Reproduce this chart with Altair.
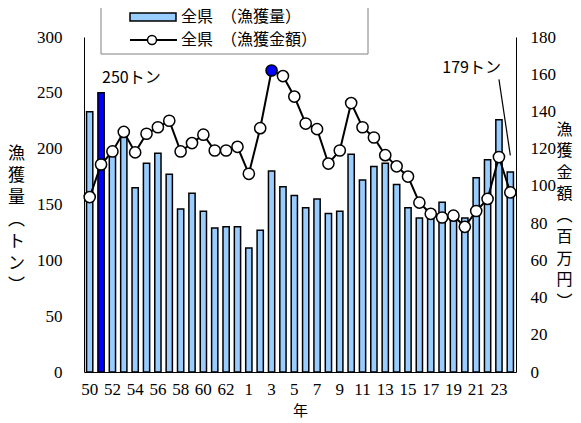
import altair as alt
import pandas as pd

years = [str(y) for y in range(50, 64)] + [str(y) for y in range(1, 25)]
catch_t = [233, 250, 197, 213, 165, 187, 196, 177, 146, 160, 144, 129, 130, 130,
           111, 127, 180, 166, 158, 147, 155, 142, 144, 195, 172, 184, 187, 168,
           147, 138, 141, 152, 140, 138, 174, 190, 226, 179]
amount_m = [94, 111.5, 118.5, 129, 118, 128, 131.5, 135, 118.5, 123, 127.5, 119, 119, 121,
            106.5, 131, 162, 159, 148, 133.5, 130.5, 112, 119, 144.5, 131.5, 126, 116.5, 110.5,
            105, 91, 85, 83, 84, 78, 86.5, 93, 115.5, 96.5]
x_labels = ["50", "52", "54", "56", "58", "60", "62", "1", "3", "5", "7", "9",
            "11", "13", "15", "17", "19", "21", "23"]
left_ticks = [0, 50, 100, 150, 200, 250, 300]
right_ticks = [0, 20, 40, 60, 80, 100, 120, 140, 160, 180]
left_title = ["漁", "獲", "量", "︵", "ト", "ン", "︶"]
right_title = ["漁", "獲", "金", "額", "︵", "百", "万", "円", "︶"]
legend_labels = ["全県　（漁獲量）", "全県　（漁獲金額）"]
ann_text1 = [{"year": "51", "y": 263, "t": "250トン"}]
ann_text2 = [{"year": "23", "y": 272, "t": "179トン"}]
ann_line = [{"year": "23", "year2": "24", "y": 262, "y2": 194}]

df = pd.DataFrame({"year": years, "catch": catch_t, "amount": amount_m})

NUM = "Liberation Sans Narrow"
JP = "Noto Sans CJK JP"
W, H = 432, 335

x_axis = alt.Axis(values=x_labels, labelAngle=0, ticks=False, domainColor="black",
                  labelFont=NUM, labelFontSize=17, labelColor="black", labelPadding=9,
                  titleFont=JP, titleFontSize=15, titleFontWeight="normal",
                  titleColor="black", titlePadding=6)
x_scale = alt.Scale(domain=years, paddingInner=0.45, paddingOuter=0.225)


def xenc():
    return alt.X("year:N", scale=x_scale, title="年", axis=x_axis)


yl_scale = alt.Scale(domain=[0, 300], nice=False)
yr_scale = alt.Scale(domain=[0, 180], nice=False)

bars = alt.Chart(df).mark_bar(stroke="black", strokeWidth=1.5).encode(
    x=xenc(),
    y=alt.Y("catch:Q", scale=yl_scale, title=left_title,
            axis=alt.Axis(orient="left", values=left_ticks, grid=False, ticks=False,
                          domainColor="black", labelFont=NUM, labelFontSize=17,
                          labelColor="black", labelPadding=22,
                          titleFont=JP, titleFontSize=17, titleFontWeight="normal",
                          titleColor="black", titleAngle=0, titleAlign="center",
                          titleBaseline="top", titleLineHeight=22,
                          titleX=-68, titleY=108)),
    fill=alt.condition(alt.datum.year == "51", alt.value("#0000FF"), alt.value("#99CCFF")),
)

ann_t1 = alt.Chart(alt.Data(values=ann_text1)).mark_text(
    font=JP, fontSize=16, baseline="middle", align="left", dx=1, color="black").encode(
    x=xenc(),
    y=alt.Y("y:Q", scale=yl_scale, axis=None),
    text="t:N",
)
ann_t2 = alt.Chart(alt.Data(values=ann_text2)).mark_text(
    font=JP, fontSize=16, baseline="middle", align="right", dx=2, color="black").encode(
    x=xenc(),
    y=alt.Y("y:Q", scale=yl_scale, axis=None),
    text="t:N",
)
ann_r = alt.Chart(alt.Data(values=ann_line)).mark_rule(color="black", strokeWidth=1.2).encode(
    x=xenc(),
    x2="year2:N",
    y=alt.Y("y:Q", scale=yl_scale, axis=None),
    y2="y2:Q",
)

line = alt.Chart(df).mark_line(color="black", strokeWidth=2).encode(
    x=xenc(),
    y=alt.Y("amount:Q", scale=yr_scale, title=right_title,
            axis=alt.Axis(orient="right", values=right_ticks, grid=False, ticks=False,
                          domainColor="black", labelFont=NUM, labelFontSize=17,
                          labelColor="black", labelPadding=14,
                          titleFont=JP, titleFontSize=16, titleFontWeight="normal",
                          titleColor="black", titleAngle=0, titleAlign="center",
                          titleBaseline="top", titleLineHeight=21.5,
                          titleX=48, titleY=84)),
)
pts = alt.Chart(df).mark_point(filled=True, shape="circle", size=125, stroke="black",
                               strokeWidth=1.5, opacity=1).encode(
    x=xenc(),
    y=alt.Y("amount:Q", scale=yr_scale, axis=None),
    fill=alt.condition(alt.datum.year == "3", alt.value("#0000FF"), alt.value("white")),
)

one = alt.Data(values=[{}])
lg_box = alt.Chart(one).mark_rect(fill="white", stroke="#808080", strokeWidth=1).encode(
    x=alt.value(17), x2=alt.value(284), y=alt.value(-35), y2=alt.value(17))
lg_bar = alt.Chart(one).mark_rect(fill="#99CCFF", stroke="black", strokeWidth=1.5).encode(
    x=alt.value(46), x2=alt.value(92), y=alt.value(-24), y2=alt.value(-16))
lg_line = alt.Chart(one).mark_rule(color="black", strokeWidth=2).encode(
    x=alt.value(46), x2=alt.value(93), y=alt.value(3))
lg_pt = alt.Chart(one).mark_point(filled=True, shape="circle", size=80, fill="white",
                                  stroke="black", strokeWidth=1.5, opacity=1).encode(
    x=alt.value(68), y=alt.value(3))
lg_t1 = alt.Chart(one).mark_text(font=JP, fontSize=16, align="left", baseline="middle",
                                 color="black", text=legend_labels[0]).encode(
    x=alt.value(97), y=alt.value(-20))
lg_t2 = alt.Chart(one).mark_text(font=JP, fontSize=16, align="left", baseline="middle",
                                 color="black", text=legend_labels[1]).encode(
    x=alt.value(97), y=alt.value(3))

chart = alt.layer(
    bars, ann_t1, ann_t2, ann_r, line, pts,
    lg_box, lg_bar, lg_line, lg_pt, lg_t1, lg_t2
).resolve_scale(y="independent").properties(
    width=W, height=H,
    background="white",
    autosize=alt.AutoSizeParams(type="none"),
    padding={"left": 76, "top": 29, "right": 57, "bottom": 50},
).configure_view(stroke=None)

chart.save("out.html", embed_options={"renderer": "svg", "actions": False})
